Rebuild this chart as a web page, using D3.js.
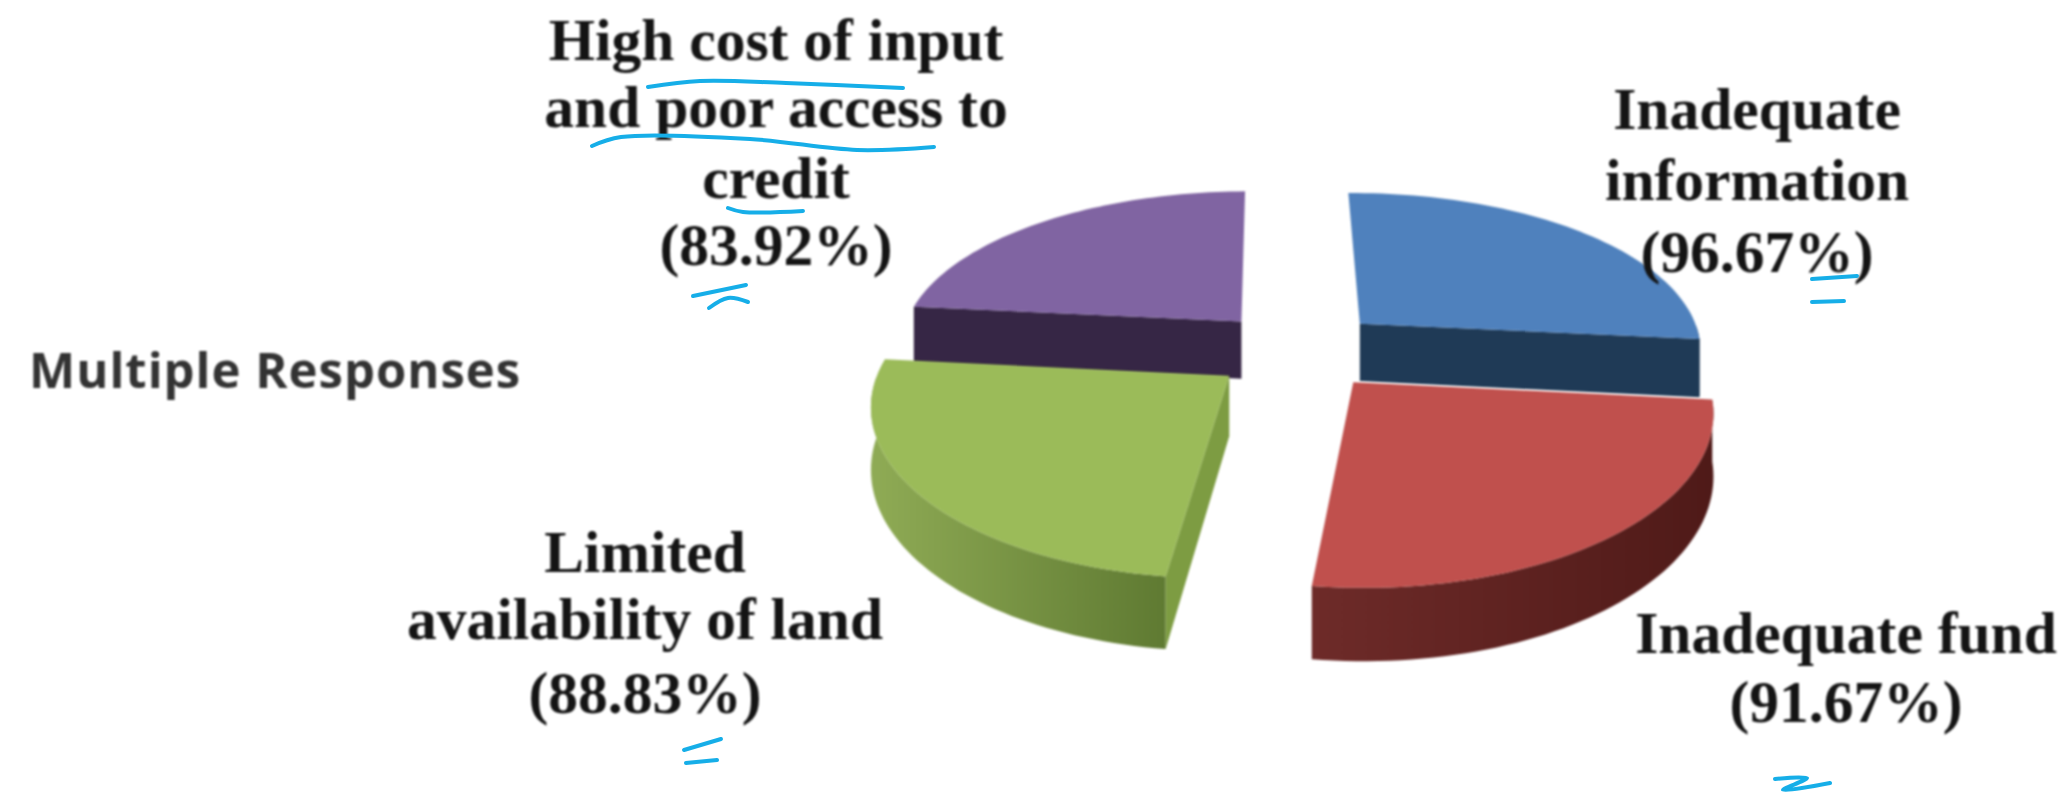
<!DOCTYPE html>
<html>
<head>
<meta charset="utf-8">
<script src="https://cdn.jsdelivr.net/npm/d3@7"></script>
<style>
	html, body { margin: 0; background: #fff; }
	svg { display: block; }
	.label { font-family: "Liberation Serif", serif; font-weight: bold; font-size: 59.5px; fill: #141414; text-anchor: middle; filter: blur(0.9px); }
	.title { font-family: "Open Sans", sans-serif; font-weight: 700; font-size: 49px; letter-spacing: 1px; fill: #333; filter: blur(0.9px); }
	.slice { filter: blur(0.8px); }
</style>
</head>
<body>
<svg id="viz" width="2062" height="792"></svg>
<script>
var categories = ["Inadequate information", "Inadequate fund", "Limited availability of land", "High cost of input and poor access to credit"];
var values = [96.67, 91.67, 88.83, 83.92];
var topColors = ["#4f81bd", "#c0504d", "#9bbb59", "#8064a2"];
var wallColors = ["#1f3a56", "#5e2321", "#7d9c42", "#362645"];
var sideLight = ["#1f3a56", "#6e2b29", "#8fab55", "#362645"];
var sideDark = ["#1f3a56", "#4f1a18", "#5f7a32", "#362645"];

var labelLines = [
	["Inadequate", "information", "(96.67%)"],
	["Inadequate fund", "(91.67%)"],
	["Limited", "availability of land", "(88.83%)"],
	["High cost of input", "and poor access to", "credit", "(83.92%)"]
];
var labelX = [1757, 1846, 645, 776];
var labelY = [[129, 200, 272], [653, 722], [572, 639, 713], [60, 127, 198, 265]];

// hand drawn pen marks on top of the chart
var penStrokes = [
	[[648, 87], [700, 81], [786, 83], [903, 88]],
	[[592, 146], [621, 137], [750, 139], [857, 150], [934, 147]],
	[[728, 208], [743, 212], [803, 211]],
	[[693, 296], [746, 285]],
	[[709, 308], [728, 298], [748, 302]],
	[[1812, 279], [1857, 276]],
	[[1812, 302], [1844, 301]],
	[[684, 750], [721, 739]],
	[[686, 763], [717, 760]],
	[[1775, 779], [1807, 778], [1783, 790], [1830, 783]]
];

var cx = 1298, cy = 350;
var radiusX = 344, radiusY = 160;
var thickness = 59;
var perspectiveX = 0.15, perspectiveY = 0.164;
var explode = 0.25;

var x = d3.scaleLinear().domain([-1, 1]).range([cx - radiusX, cx + radiusX]);
var y = d3.scaleLinear().domain([-1, 1]).range([cy + radiusY, cy - radiusY]);
var z = d3.scaleLinear().domain([0, 1]).range([0, thickness]);

function project(px, py, depth) {
	var sx = 1 / (1 + perspectiveX * py);
	var sy = 1 / (1 + perspectiveY * py);
	return [x(px * sx), y(py * sy) + z(depth) * sy];
}

var pie = d3.pie().sort(null).value(function(d) { return d; })
	.startAngle(-0.7 * Math.PI / 180)
	.endAngle(359.3 * Math.PI / 180);
var slices = pie(values);

var line = d3.line();
var svg = d3.select("#viz");
var defs = svg.append("defs");

slices.forEach(function(d, i) {
	var grad = defs.append("linearGradient").attr("id", "side" + i);
	grad.append("stop").attr("offset", "0%").attr("stop-color", sideLight[i]);
	grad.append("stop").attr("offset", "100%").attr("stop-color", sideDark[i]);
});

function arcAngles(d) {
	return d3.range(0, 61).map(function(k) {
		return d.startAngle + (d.endAngle - d.startAngle) * k / 60;
	});
}

function arcPoints(angles, ox, oy, depth) {
	return angles.map(function(a) {
		return project(ox + Math.sin(a), oy + Math.cos(a), depth);
	});
}

function drawSlice(i) {
	var d = slices[i];
	var mid = (d.startAngle + d.endAngle) / 2;
	var ox = explode * Math.sin(mid), oy = explode * Math.cos(mid);
	var g = svg.append("g").attr("class", "slice").attr("data-name", categories[i]);
	var angles = arcAngles(d);
	var topArc = arcPoints(angles, ox, oy, 0);
	var lowArc = arcPoints(angles, ox, oy, 1);
	var apexTop = project(ox, oy, 0);
	var apexLow = project(ox, oy, 1);

	// rim, only the part on the front half of the pie
	var front = angles.filter(function(a) { return Math.cos(a) < 0; });
	if (front.length > 1) {
		g.append("path").attr("fill", "url(#side" + i + ")")
			.attr("d", line(arcPoints(front, ox, oy, 0).concat(arcPoints(front, ox, oy, 1).reverse())) + "Z");
	}
	// cut faces, only the ones turned to the viewer
	if (Math.sin(d.startAngle) < -0.1) {
		g.append("path").attr("fill", wallColors[i])
			.attr("d", line([apexTop, topArc[0], lowArc[0], apexLow]) + "Z");
	}
	if (Math.sin(d.endAngle) > 0.1) {
		g.append("path").attr("fill", wallColors[i])
			.attr("d", line([apexTop, topArc[60], lowArc[60], apexLow]) + "Z");
	}
	// top
	g.append("path").attr("fill", topColors[i])
		.attr("d", line([apexTop].concat(topArc)) + "Z");
}

// back wedges first so the front ones cover them
[3, 0, 2, 1].forEach(drawSlice);

labelLines.forEach(function(lines, i) {
	lines.forEach(function(txt, j) {
		svg.append("text").attr("class", "label")
			.attr("x", labelX[i]).attr("y", labelY[i][j]).text(txt);
	});
});

svg.append("text").attr("class", "title").attr("x", 29).attr("y", 388).text("Multiple Responses");

var pen = d3.line().curve(d3.curveCatmullRom);
svg.selectAll("path.pen").data(penStrokes).enter().append("path")
	.attr("class", "pen")
	.attr("d", function(d) { return pen(d); })
	.attr("fill", "none").attr("stroke", "#16aee8")
	.attr("stroke-width", 4).attr("stroke-linecap", "round");
</script>
</body>
</html>
